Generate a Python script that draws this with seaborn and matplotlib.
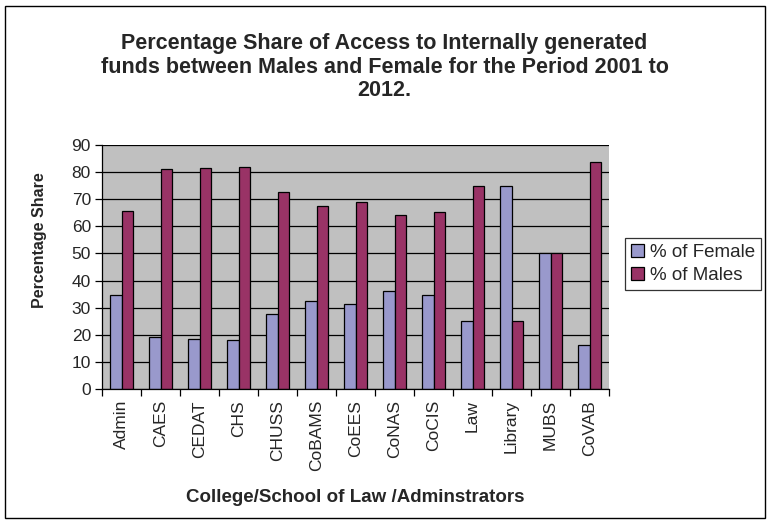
import matplotlib
matplotlib.use("Agg")
import matplotlib.pyplot as plt
import seaborn as sns
import pandas as pd
import numpy as np
from matplotlib.patches import Rectangle

categories = ["Admin", "CAES", "CEDAT", "CHS", "CHUSS", "CoBAMS", "CoEES",
              "CoNAS", "CoCIS", "Law", "Library", "MUBS", "CoVAB"]
female = [34.5, 19.0, 18.5, 18.0, 27.5, 32.5, 31.2, 36.0, 34.7, 25.0, 75.0, 50.0, 16.2]
males = [65.5, 81.0, 81.5, 82.0, 72.5, 67.5, 68.8, 64.0, 65.3, 75.0, 25.0, 50.0, 83.8]
series = ["% of Female", "% of Males"]
yticks = list(range(0, 100, 10))

df = pd.DataFrame({
    "cat": categories * 2,
    "val": female + males,
    "series": [series[0]] * len(categories) + [series[1]] * len(categories),
})

sns.set_style("white")
plt.rcParams["font.family"] = ["Liberation Sans", "DejaVu Sans"]

W, H = 769, 524
fig = plt.figure(figsize=(7.69, 5.24), dpi=100)
ax = fig.add_axes([102 / W, 1 - 389 / H, (609 - 102) / W, (389 - 145) / H])
ax.set_facecolor("#C0C0C0")

sns.barplot(data=df, x="cat", y="val", hue="series", order=categories,
            palette=["#9999CC", "#993366"], width=0.6, edgecolor="black",
            linewidth=0.9, ax=ax, legend=True, saturation=1)

ax.set_ylim(0, 90)
ax.set_xlim(-0.5, len(categories) - 0.5)
ax.set_yticks(yticks)
ax.yaxis.grid(True, color="black", linewidth=0.9)
ax.set_axisbelow(True)
ax.tick_params(axis="y", labelsize=12.5, length=5, direction="out", left=True,
               color="black", width=0.9, pad=3)
ax.set_xticks(range(len(categories)))
ax.set_xticklabels(categories, rotation=90, fontsize=12.5)
ax.tick_params(axis="x", which="major", length=0, pad=8)
ax.set_xticks(np.arange(-0.5, len(categories), 1), minor=True)
ax.tick_params(axis="x", which="minor", length=5, direction="out", bottom=True,
               color="black", width=0.9)

for s in ["top", "right"]:
    ax.spines[s].set_visible(False)
for s in ["left", "bottom"]:
    ax.spines[s].set_color("black")
    ax.spines[s].set_linewidth(0.9)

ax.set_ylabel("")
ax.set_xlabel("")
fig.text(40 / W, 1 - 240 / H, "Percentage Share", rotation=90, ha="center", va="center",
         fontsize=11.5, fontweight="bold")
fig.text(355 / W, 1 - 497 / H, "College/School of Law /Adminstrators", ha="center",
         va="center", fontsize=13.5, fontweight="bold")

handles, labels = ax.get_legend_handles_labels()
ax.get_legend().remove()
leg = fig.legend(handles, labels, loc="upper left", bbox_to_anchor=(625 / W, 1 - 238 / H),
                 frameon=True, fancybox=False, edgecolor="black", fontsize=13.5,
                 handlelength=0.7, handleheight=0.7, handletextpad=0.35,
                 borderpad=0.3, labelspacing=0.35, borderaxespad=0)
leg.get_frame().set_linewidth(0.9)

fig.text(0.5, 1 - 33 / H, "Percentage Share of Access to Internally generated\n"
         "funds between Males and Female for the Period 2001 to\n2012.",
         ha="center", va="top", fontsize=15.5, fontweight="bold", linespacing=1.17)

fig.patches.append(Rectangle((5 / W, 6 / H), (765 - 5) / W, (518 - 6) / H,
                             transform=fig.transFigure, fill=False,
                             edgecolor="black", linewidth=1))

fig.savefig("out.png", dpi=100, facecolor="white")
